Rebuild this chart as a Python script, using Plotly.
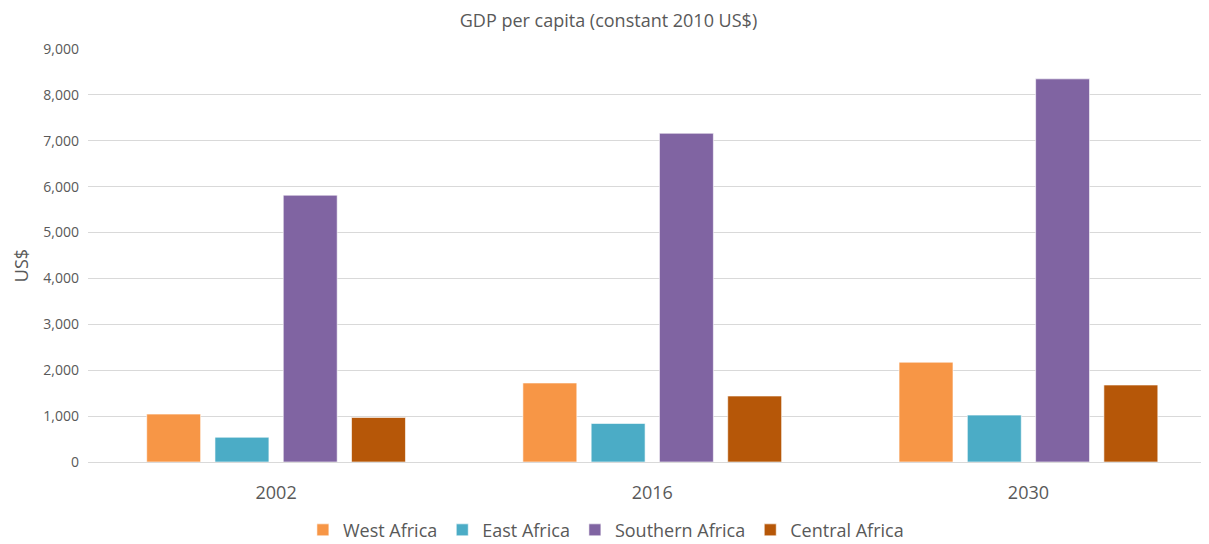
import plotly.graph_objects as go

years = ['2002', '2016', '2030']
west_africa = [1044, 1722, 2175]
east_africa = [540, 840, 1022]
southern_africa = [5814, 7164, 8349]
central_africa = [971, 1438, 1678]

series = [
    ('West Africa', west_africa, '#F79646'),
    ('East Africa', east_africa, '#4BACC6'),
    ('Southern Africa', southern_africa, '#8064A2'),
    ('Central Africa', central_africa, '#B65708'),
]

fig = go.Figure()
for name, vals, col in series:
    fig.add_trace(go.Bar(x=years, y=vals, name=name,
                         marker=dict(color=col, line=dict(color='rgba(255,255,255,0.6)', width=1))))

# page has an 8px body margin, so the figure is sized and shifted to compensate
fig.update_layout(
    title=dict(text='GDP per capita (constant 2010 US$)', x=0.5, xanchor='center', y=0.976, yanchor='middle',
               font=dict(size=18, color='#595959')),
    font=dict(family='Open Sans, Liberation Sans, sans-serif', color='#595959'),
    width=1201, height=536,
    margin=dict(l=80, r=0, t=41, b=82, autoexpand=False),
    plot_bgcolor='white', paper_bgcolor='white',
    barmode='group', bargap=0.274, bargroupgap=0.21,
    legend=dict(orientation='h', x=0.462, xanchor='center', y=-0.165, yanchor='middle',
                font=dict(size=18, color='#595959'), itemwidth=30, traceorder='normal'),
    showlegend=True,
)
# y title as an annotation so it can sit further left than plotly would put it
fig.add_annotation(text='US$', textangle=-90, xref='paper', yref='paper', x=-0.0595, y=0.475,
                   xanchor='center', yanchor='middle', showarrow=False,
                   font=dict(size=18, color='#595959'))
fig.update_yaxes(range=[0, 9000], dtick=1000, tickformat=',', showgrid=True, gridcolor='#D9D9D9',
                 gridwidth=1, zeroline=False, tickfont=dict(size=14, color='#595959'),
                 ticks='', ticklen=0, ticklabelstandoff=8)
# the chart is cropped on the right, so the category range runs past the visible edge
fig.update_xaxes(range=[-0.5, 2.48], showline=True, linecolor='#D9D9D9', linewidth=1,
                 tickfont=dict(size=18, color='#595959'), ticks='', ticklabelstandoff=14)

fig.write_html('out.html')
